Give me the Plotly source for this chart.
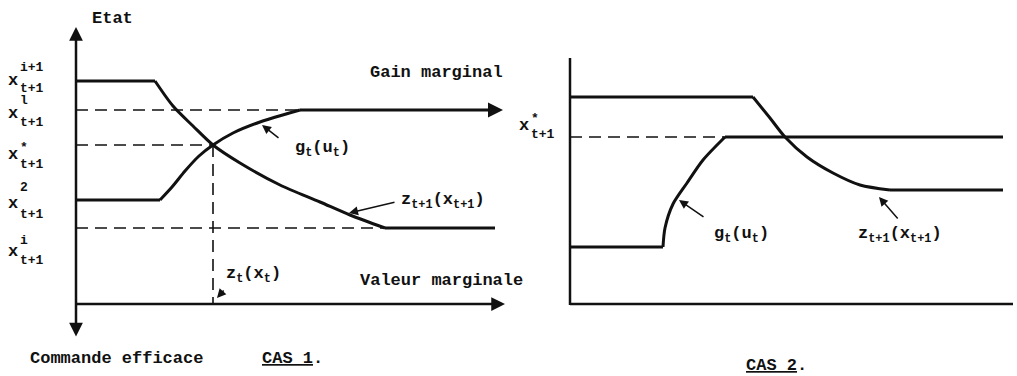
import plotly.graph_objects as go

# ---------------- DATA (schematic units) ----------------
# Panel 1 (CAS 1)
p1_levels = {"z_top": 22.3, "x_l": 19.4, "x_star": 15.9, "g_low": 10.4, "x_i": 7.6}
p1_z_x = [0, 7.9, 9.7, 11.7, 13.7, 16.4, 20.4, 24.4, 27.4, 30.9, 41.9]
p1_z_y = [22.3, 22.3, 19.8, 17.8, 15.9, 14.1, 11.9, 10.2, 8.9, 7.6, 7.6]
p1_g_x = [0, 8.4, 9.6, 10.9, 12.3, 13.7, 15.7, 18.4, 22.4]
p1_g_y = [10.4, 10.4, 11.7, 13.3, 14.8, 15.9, 17.1, 18.2, 19.4]
p1_g_end = 42.7
p1_xaxis_end = 42.9
p1_yaxis_top, p1_yaxis_bottom = 27.7, -3.4

# Panel 2 (CAS 2)
p2_z_x = [0, 18.3, 20.0, 21.5, 23.7, 26.3, 29.0, 32.0, 43.3]
p2_z_y = [20.7, 20.7, 18.6, 16.7, 14.7, 13.1, 11.9, 11.4, 11.4]
p2_g_x = [0, 9.3, 9.5, 10.3, 11.7, 13.3, 15.5, 43.3]
p2_g_y = [5.7, 5.7, 7.6, 10.0, 12.1, 14.4, 16.7, 16.7]
p2_x_star = 16.7
p2_xaxis_end = 44.3
p2_yaxis_top = 24.6

# Texts
left_labels = [("x", "i+1", "t+1"), ("x", "l", "t+1"), ("x", "*", "t+1"),
               ("x", "2", "t+1"), ("x", "i", "t+1")]
txt_etat = "Etat"
txt_gain = "Gain marginal"
txt_valeur = "Valeur marginale"
txt_commande = "Commande efficace"
txt_cas1 = "<u>CAS 1</u>."
txt_cas2 = "<u>CAS 2</u>."
txt_g = "g<sub>t</sub>(u<sub>t</sub>)"
txt_z1 = "z<sub>t+1</sub>(x<sub>t+1</sub>)"
txt_zt = "z<sub>t</sub>(x<sub>t</sub>)"

FONT = "Liberation Mono"
INK = "#111111"
DASH = "12px,7px"

fig = go.Figure()


def line(xs, ys, xa="x", ya="y", width=3, dash="solid", smooth=False):
    ln = dict(color=INK, width=width, dash=dash)
    if smooth:
        ln.update(shape="spline", smoothing=0.8)
    fig.add_trace(go.Scatter(x=xs, y=ys, mode="lines", xaxis=xa, yaxis=ya,
                             line=ln, hoverinfo="skip", showlegend=False))


def curve(xs, ys, xa="x", ya="y"):
    line(xs[:2], ys[:2], xa, ya)
    line(xs[1:-1], ys[1:-1], xa, ya, smooth=True)
    line(xs[-2:], ys[-2:], xa, ya)


def arrow(x, y, ax, ay, xr="x", yr="y", width=2.5, head=2, size=1.0, side="end"):
    fig.add_annotation(x=x, y=y, ax=ax, ay=ay, xref=xr, yref=yr, axref=xr, ayref=yr,
                       showarrow=True, arrowhead=head, arrowsize=size, arrowwidth=width,
                       arrowcolor=INK, arrowside=side, text="")


def text(x, y, t, xr="x", yr="y", size=17, xanchor="center", bold=True):
    fig.add_annotation(x=x, y=y, xref=xr, yref=yr, text=(f"<b>{t}</b>" if bold else t),
                       showarrow=False,
                       font=dict(family=FONT, size=size, color=INK),
                       xanchor=xanchor, yanchor="middle")


L = p1_levels
# ---------- Panel 1 ----------
line([0, p1_g_x[-1]], [L["x_l"]] * 2, width=1.6, dash=DASH)
line([0, 13.7], [L["x_star"]] * 2, width=1.6, dash=DASH)
line([0, p1_z_x[-2]], [L["x_i"]] * 2, width=1.6, dash=DASH)
line([13.7, 13.7], [L["x_star"], 0], width=1.6, dash=DASH)
curve(p1_z_x, p1_z_y)
curve(p1_g_x + [p1_g_end - 0.6], p1_g_y + [L["x_l"]])
arrow(p1_g_end, L["x_l"], p1_g_end - 1, L["x_l"], width=3, size=1.0)
line([0, p1_xaxis_end - 0.6], [0, 0], width=2.5)
arrow(p1_xaxis_end, 0, p1_xaxis_end - 1, 0, width=2.5, size=1.1)
arrow(0, p1_yaxis_top, 0, p1_yaxis_bottom, width=2.5, size=1.1, side="end+start")

text(3.6, 28.6, txt_etat)
text(36.0, 23.2, txt_gain)
text(36.5, 2.4, txt_valeur)
text(4.0, -5.4, txt_commande)
text(21.6, -5.4, txt_cas1)
text(21.7, 15.5, txt_g, xanchor="left")
arrow(18.6, 17.9, 20.4, 16.5, width=1.5, head=2, size=1.2)
text(32.3, 10.3, txt_z1, xanchor="left")
arrow(27.3, 9.1, 32.0, 10.2, width=1.5, head=2, size=1.2)
text(14.8, 2.9, txt_zt, xanchor="left")
arrow(14.1, 0.6, 14.9, 1.5, width=1.5, head=2, size=1.2)

left_pos = [(22.4, 23.7, 21.6), (19.1, 20.4, 18.2), (15.0, 15.7, 14.0),
            (10.1, 11.7, 9.0), (5.3, 6.4, 4.4)]
for (base, sup, sub), (yb, ys, yd) in zip(left_labels, left_pos):
    text(-6.3, yb, base, size=17)
    text(-5.8, ys, sup, size=13, xanchor="left")
    text(-5.8, yd, sub, size=13, xanchor="left")

# ---------- Panel 2 ----------
line([0, p2_g_x[-2]], [p2_x_star] * 2, xa="x2", ya="y2", width=1.6, dash=DASH)
curve(p2_z_x, p2_z_y, xa="x2", ya="y2")
curve(p2_g_x, p2_g_y, xa="x2", ya="y2")
line([0, p2_xaxis_end], [0, 0], xa="x2", ya="y2", width=2.5)
line([0, 0], [-0.1, p2_yaxis_top], xa="x2", ya="y2", width=2.5)

text(-4.6, 17.9, "x", xr="x2", yr="y2", size=17)
text(-4.1, 18.6, "*", xr="x2", yr="y2", size=13, xanchor="left")
text(-4.1, 17.0, "t+1", xr="x2", yr="y2", size=13, xanchor="left")
text(14.2, 6.9, txt_g, xr="x2", yr="y2", xanchor="left")
arrow(10.9, 10.4, 13.5, 8.6, xr="x2", yr="y2", width=1.5, head=2, size=1.2)
text(28.6, 6.9, txt_z1, xr="x2", yr="y2", xanchor="left")
arrow(30.9, 10.7, 32.9, 8.4, xr="x2", yr="y2", width=1.5, head=2, size=1.2)
text(20.6, -6.1, txt_cas2, xr="x2", yr="y2")

W, H = 1017, 376
ax_common = dict(visible=False, showgrid=False, zeroline=False, fixedrange=True)
fig.update_layout(
    width=W, height=H,
    margin=dict(l=0, r=0, t=0, b=0),
    paper_bgcolor="white", plot_bgcolor="white",
    xaxis=dict(domain=[0, 1], range=[-7.6, (W - 76) / 10], **ax_common),
    yaxis=dict(domain=[0, 1], range=[-(H - 304) / 10, 30.4], **ax_common),
    xaxis2=dict(domain=[0, 1], range=[-57.0, (W - 570) / 10], overlaying="x", **ax_common),
    yaxis2=dict(domain=[0, 1], range=[-(H - 304) / 10, 30.4], overlaying="y", **ax_common),
    showlegend=False,
)

fig.write_html("out.html", config={"displayModeBar": False, "staticPlot": True},
               post_script="document.body.style.margin='0px';document.body.style.overflow='hidden';")
